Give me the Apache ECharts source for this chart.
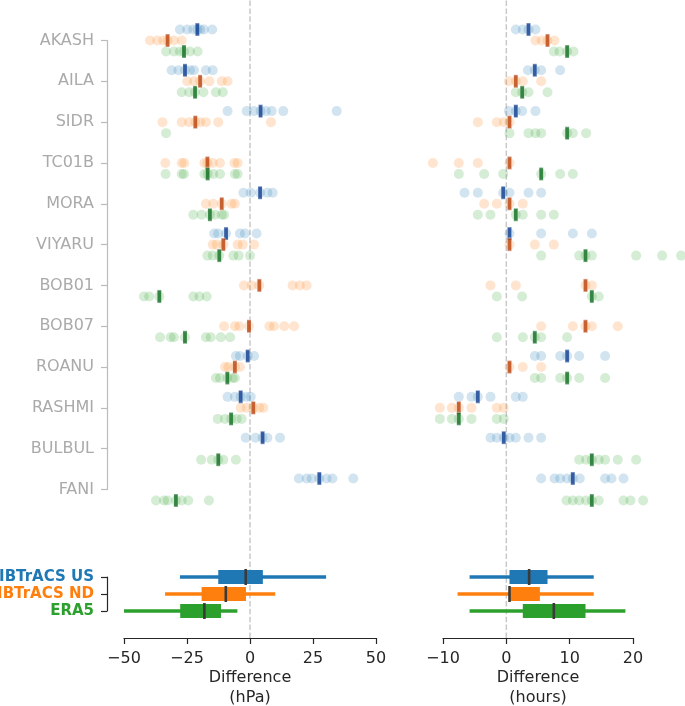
<!DOCTYPE html>
<html>
<head>
<meta charset="utf-8">
<script src="https://cdn.jsdelivr.net/npm/echarts@6/dist/echarts.min.js"></script>
<style>
  html, body { margin: 0; padding: 0; background: #fff; }
  #chart { width: 685px; height: 706px; }
</style>
</head>
<body>
<div id="chart"></div>
<script>
// storms, top to bottom
var storms = ["AKASH", "AILA", "SIDR", "TC01B", "MORA", "VIYARU", "BOB01", "BOB07", "ROANU", "RASHMI", "BULBUL", "FANI"];
var sources = ["IBTrACS US", "IBTrACS ND", "ERA5"];

// pressure difference (hPa), one list per storm
var usHpa = [
  [-27.8, -24.9, -22.5, -20.9, -19.8, -18.3, -15.0],
  [-31.1, -28.4, -25.8, -23.8, -22.2, -17.5, -14.8],
  [-8.9, -1.3, 1.6, 4.2, 6.3, 8.6, 13.2, 34.4],
  [],
  [-2.6, 0.3, 4.0, 6.9, 9.0],
  [-14.2, -12.6, -9.5, -4.0, -2.0, 2.6],
  [],
  [],
  [-5.6, -4.0, -0.9, 1.6],
  [-8.9, -6.0, -3.7, -1.6, 0.3],
  [-1.7, 2.2, 5.0, 6.9, 11.9],
  [19.4, 22.5, 24.5, 27.5, 30.4, 32.7, 41.0]
];
var ndHpa = [
  [-39.7, -36.8, -34.4, -32.7, -30.2, -27.1],
  [-24.9, -22.2, -19.8, -16.1, -11.2, -8.9],
  [-34.7, -27.1, -24.1, -21.7, -19.8, -17.5, -12.6, 8.3],
  [-33.6, -27.1, -26.1, -18.1, -16.9, -14.8, -11.9, -6.2, -4.9],
  [-17.5, -14.6, -11.2, -7.3, -6.0],
  [-14.8, -13.2, -10.6, -4.9, -2.9, 1.6],
  [-2.4, 0.7, 3.7, 16.9, 19.8, 22.5],
  [-10.3, -6.0, -4.2, -0.4, 7.7, 9.5, 13.6, 17.5],
  [-9.9, -8.6, -6.0, -4.0],
  [-3.7, -1.3, 1.3, 3.7, 5.3],
  [],
  []
];
var eraHpa = [
  [-33.3, -30.2, -27.8, -26.2, -23.8, -20.8],
  [-27.1, -24.1, -21.8, -18.5, -13.5, -10.8],
  [-33.3],
  [-33.5, -27.1, -26.2, -18.1, -16.8, -14.6, -11.9, -6.0, -4.9],
  [-22.5, -19.2, -15.9, -13.9, -11.2, -10.3],
  [-16.9, -14.8, -12.2, -6.6, -4.5, 0],
  [-42.1, -40.0, -36.0, -22.5, -20.1, -17.2],
  [-35.7, -31.5, -30.2, -25.8, -17.5, -15.6, -11.6, -7.9],
  [-13.5, -11.9, -9.0, -6.9, -6.0],
  [-12.8, -9.9, -7.5, -5.3, -3.3],
  [-19.4, -15.2, -12.6, -10.6, -5.6],
  [-37.3, -34.1, -32.7, -29.4, -27.1, -24.5, -16.3]
];
var usHpaMed = [-20.9, -25.8, 4.2, null, 4.0, -9.5, null, null, -0.9, -3.7, 5.0, 27.5];
var ndHpaMed = [-32.7, -19.8, -21.7, -16.9, -11.2, -10.6, 3.7, -0.4, -6.0, 1.3, null, null];
var eraHpaMed = [-26.2, -21.8, null, -16.8, -15.9, -12.2, -36.0, -25.8, -9.0, -7.5, -12.6, -29.4];

// timing difference (hours), one list per storm
var usHours = [
  [1.5, 2.6, 3.5, 4.6],
  [3.4, 4.5, 5.5, 8.5],
  [0.4, 1.5, 2.5, 4.6],
  [],
  [-6.6, -4.5, -0.5, 0.5, 3.5, 5.5],
  [0.5, 5.5, 10.5, 13.5],
  [],
  [],
  [4.5, 5.5, 8.5, 9.6, 11.5, 15.6],
  [-7.5, -5.5, -4.5, -2.5, 1.5, 2.6],
  [-2.5, -1.5, -0.4, 0.5, 1.5, 3.5, 5.5],
  [5.5, 7.6, 8.5, 9.6, 10.5, 11.6, 15.6, 16.6, 18.5]
];
var ndHours = [
  [4.6, 5.6, 6.5, 7.6],
  [0.4, 1.5, 2.6, 5.5],
  [-4.5, -1.5, -0.4, 0.5],
  [-11.6, -7.5, -4.5, 0.5],
  [-3.5, -1.5, 0.5, 2.6],
  [0.5, 4.5, 7.5],
  [-2.5, 1.5, 12.5, 13.5],
  [5.5, 10.5, 12.5, 13.5, 17.6],
  [0.5, 2.6, 5.5],
  [-10.5, -8.6, -7.5, -5.5, -1.5, -0.4],
  [],
  []
];
var eraHours = [
  [7.5, 8.4, 9.6, 10.6],
  [1.5, 2.5, 3.5, 6.5],
  [0.5, 3.5, 4.6, 5.5, 9.6, 10.5, 12.6],
  [-7.5, -3.5, -0.5, 5.5, 8.5, 10.5],
  [-4.5, -2.5, 1.5, 2.6, 5.5, 7.5],
  [5.5, 11.5, 12.5, 13.5, 20.5, 24.6, 27.6],
  [-1.5, 2.5, 13.5, 14.6],
  [-1.5, 2.6, 4.5, 5.5, 9.6],
  [4.5, 5.5, 8.5, 9.6, 11.5, 15.6],
  [-10.5, -8.6, -7.5, -5.5, -1.5, -0.4],
  [11.5, 12.6, 13.5, 14.6, 15.6, 17.6, 20.5],
  [9.5, 10.5, 11.5, 12.6, 13.5, 14.6, 18.5, 19.6, 21.6]
];
var usHoursMed = [3.5, 4.5, 1.5, null, -0.5, 0.5, null, null, 9.6, -4.5, -0.4, 10.5];
var ndHoursMed = [6.5, 1.5, 0.5, 0.5, 0.5, 0.5, 12.5, 12.5, 0.5, -7.5, null, null];
var eraHoursMed = [9.6, 2.5, 9.6, 5.5, 1.5, 12.5, 13.5, 4.5, 9.6, -7.5, 13.5, 13.5];

// summary boxes: [whisker low, q1, median, q3, whisker high]
var boxHpa = [
  [-27.8, -12.6, -1.7, 5.1, 30.2],
  [-33.7, -19.2, -9.6, -1.6, 10.0],
  [-50.0, -27.7, -18.1, -11.5, -5.0]
];
var boxHours = [
  [-5.8, 0.5, 3.6, 6.5, 13.8],
  [-7.7, 0.5, 0.5, 5.3, 13.8],
  [-5.8, 2.6, 7.5, 12.5, 18.8]
];

var hpaTicks = [-50, 50, 25];
var hourTicks = [-10, 20, 10];

var baseColors = ["#1f77b4", "#ff7f0e", "#2ca02c"];
var dotColors = ["rgba(31,119,180,0.25)", "rgba(255,127,14,0.25)", "rgba(44,160,44,0.25)"];
var medColors = ["#0b3b8f", "#b8410b", "#0d6b1e"];
var rowShift = [-0.27, 0, 0.27];

var chart = echarts.init(document.getElementById("chart"), null, { renderer: "canvas" });

function dotSeries(values, row, grid) {
  var data = [];
  values.forEach(function (list, i) {
    list.forEach(function (v) { data.push([v, i + rowShift[row]]); });
  });
  return {
    type: "scatter", xAxisIndex: grid, yAxisIndex: grid, data: data,
    symbolSize: 10, clip: false, silent: true, z: 3,
    itemStyle: { color: dotColors[row] }
  };
}

function medSeries(meds, row, grid) {
  var data = [];
  meds.forEach(function (v, i) {
    if (v !== null) data.push([v, i + rowShift[row]]);
  });
  return {
    type: "scatter", xAxisIndex: grid, yAxisIndex: grid, data: data,
    symbol: "rect", symbolSize: [4, 13], clip: false, silent: true, z: 5,
    itemStyle: { color: medColors[row], borderColor: "rgba(255,255,255,0.45)", borderWidth: 0.8 }
  };
}

function boxSeries(boxes, grid) {
  return {
    type: "custom", xAxisIndex: grid, yAxisIndex: grid, silent: true, z: 4,
    encode: { x: [1, 2, 3, 4, 5], y: 0 },
    data: boxes.map(function (b, i) { return [i].concat(b); }),
    renderItem: function (params, api) {
      var row = api.value(0);
      var lo = api.coord([api.value(1), row]);
      var q1 = api.coord([api.value(2), row]);
      var md = api.coord([api.value(3), row]);
      var q3 = api.coord([api.value(4), row]);
      var hi = api.coord([api.value(5), row]);
      var col = baseColors[row];
      return {
        type: "group",
        children: [
          { type: "line", shape: { x1: lo[0], y1: lo[1], x2: hi[0], y2: hi[1] }, style: { stroke: col, lineWidth: 3.3 } },
          { type: "rect", shape: { x: q1[0], y: q1[1] - 7, width: q3[0] - q1[0], height: 14 }, style: { fill: col } },
          { type: "line", shape: { x1: md[0], y1: md[1] - 8, x2: md[0], y2: md[1] + 8 }, style: { stroke: "#3a3a3a", lineWidth: 2.6 } }
        ]
      };
    }
  };
}

function zeroLine(grid) {
  return {
    type: "line", xAxisIndex: grid, yAxisIndex: grid, data: [[0, 0], [0, 1]],
    symbol: "none", silent: true, z: 1,
    lineStyle: { color: "#c8c8c8", width: 1.5, type: [5.5, 2.4] }
  };
}

function minus(v) { return String(v).replace("-", "\u2212"); }

var colLeft = { left: 124, width: 252 };
var colRight = { left: 443, width: 190 };

function makeGrid(col, top, height) {
  return { left: col.left, width: col.width, top: top, height: height, containLabel: false, outerBoundsMode: "none" };
}

var option = {
  animation: false,
  textStyle: { fontFamily: "DejaVu Sans" },
  grid: [
    makeGrid(colLeft, 40.5, 449),
    makeGrid(colRight, 40.5, 449),
    makeGrid(colLeft, 577, 34),
    makeGrid(colRight, 577, 34),
    makeGrid(colLeft, 0, 638),
    makeGrid(colRight, 0, 638)
  ],
  xAxis: [
    { gridIndex: 0, type: "value", min: hpaTicks[0], max: hpaTicks[1], show: false },
    { gridIndex: 1, type: "value", min: hourTicks[0], max: hourTicks[1], show: false },
    {
      gridIndex: 2, type: "value", min: hpaTicks[0], max: hpaTicks[1], interval: hpaTicks[2],
      position: "bottom", offset: 27, splitLine: { show: false },
      axisLine: { show: true, onZero: false, lineStyle: { color: "#262626", width: 1.2 } },
      axisTick: { show: true, length: 6, lineStyle: { color: "#262626", width: 1.2 } },
      axisLabel: { fontSize: 16, color: "#262626", margin: 13, formatter: minus },
      name: "Difference\n(hPa)", nameLocation: "middle", nameGap: 29,
      nameTextStyle: { fontSize: 16, color: "#262626", lineHeight: 20 }
    },
    {
      gridIndex: 3, type: "value", min: hourTicks[0], max: hourTicks[1], interval: hourTicks[2],
      position: "bottom", offset: 27, splitLine: { show: false },
      axisLine: { show: true, onZero: false, lineStyle: { color: "#262626", width: 1.2 } },
      axisTick: { show: true, length: 6, lineStyle: { color: "#262626", width: 1.2 } },
      axisLabel: { fontSize: 16, color: "#262626", margin: 13, formatter: minus },
      name: "Difference\n(hours)", nameLocation: "middle", nameGap: 29,
      nameTextStyle: { fontSize: 16, color: "#262626", lineHeight: 20 }
    },
    { gridIndex: 4, type: "value", min: hpaTicks[0], max: hpaTicks[1], show: false },
    { gridIndex: 5, type: "value", min: hourTicks[0], max: hourTicks[1], show: false }
  ],
  yAxis: [
    {
      gridIndex: 0, type: "value", min: 0, max: storms.length - 1, interval: 1, inverse: true,
      position: "left", offset: 17, splitLine: { show: false },
      axisLine: { show: true, onZero: false, lineStyle: { color: "#bbbbbb", width: 1.2 } },
      axisTick: { show: true, length: 6, lineStyle: { color: "#bbbbbb", width: 1.2 } },
      axisLabel: { fontSize: 16, color: "#aaaaaa", margin: 13, formatter: function (v) { return storms[v]; } }
    },
    { gridIndex: 1, type: "value", min: 0, max: storms.length - 1, inverse: true, show: false },
    {
      gridIndex: 2, type: "value", min: 0, max: 2, interval: 1, inverse: true,
      position: "left", offset: 17, splitLine: { show: false },
      axisLine: { show: true, onZero: false, lineStyle: { color: "#262626", width: 1.2 } },
      axisTick: { show: true, length: 6, lineStyle: { color: "#262626", width: 1.2 } },
      axisLabel: {
        margin: 13,
        formatter: function (v) { return "{s" + v + "|" + sources[v] + "}"; },
        rich: {
          s0: { color: baseColors[0], fontWeight: "bold", fontSize: 15 },
          s1: { color: baseColors[1], fontWeight: "bold", fontSize: 15 },
          s2: { color: baseColors[2], fontWeight: "bold", fontSize: 15 }
        }
      }
    },
    { gridIndex: 3, type: "value", min: 0, max: 2, inverse: true, show: false },
    { gridIndex: 4, type: "value", min: 0, max: 1, show: false },
    { gridIndex: 5, type: "value", min: 0, max: 1, show: false }
  ],
  series: [
    zeroLine(4),
    zeroLine(5),
    dotSeries(usHpa, 0, 0),
    dotSeries(ndHpa, 1, 0),
    dotSeries(eraHpa, 2, 0),
    medSeries(usHpaMed, 0, 0),
    medSeries(ndHpaMed, 1, 0),
    medSeries(eraHpaMed, 2, 0),
    dotSeries(usHours, 0, 1),
    dotSeries(ndHours, 1, 1),
    dotSeries(eraHours, 2, 1),
    medSeries(usHoursMed, 0, 1),
    medSeries(ndHoursMed, 1, 1),
    medSeries(eraHoursMed, 2, 1),
    boxSeries(boxHpa, 2),
    boxSeries(boxHours, 3)
  ]
};

chart.setOption(option);
</script>
</body>
</html>
